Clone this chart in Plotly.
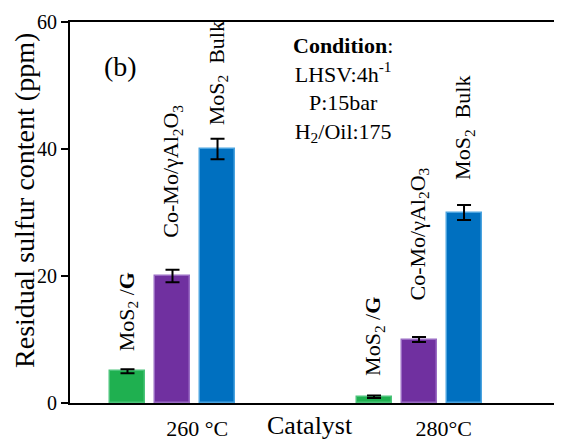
import plotly.graph_objects as go

temps = ["260 °C", "280°C"]
catalysts = ["MoS<sub>2</sub> /<b>G</b>", "Co-Mo/γAl<sub>2</sub>O<sub>3</sub>", "MoS<sub>2</sub>  Bulk"]
values = {
    "MoS2/G": [5, 1],
    "CoMo": [20, 10],
    "Bulk": [40, 30],
}
errors = {
    "MoS2/G": [0.3, 0.2],
    "CoMo": [1.0, 0.4],
    "Bulk": [1.6, 1.2],
}
keys = ["MoS2/G", "CoMo", "Bulk"]
colors = ["#1fb050", "#7030a0", "#0070c0"]
edges = ["#4cc47a", "#9a6cc4", "#4aa3df"]
label_shift = [[16, 17], [30, 34], [11, 23]]

FONT = "Liberation Serif"
d = 0.1826
w = 0.142
# page body has an 8px margin, so the figure is drawn 8px smaller with margins reduced by 8
fig = go.Figure()
anns = []
for i, k in enumerate(keys):
    xs = [g + (i - 1) * d for g in range(len(temps))]
    fig.add_trace(go.Bar(
        x=xs, y=values[k], width=w,
        marker=dict(color=colors[i], line=dict(color=edges[i], width=1.5)),
        error_y=dict(type="data", array=errors[k], color="black", thickness=2, width=7),
        showlegend=False,
    ))
    for g in range(len(temps)):
        anns.append(dict(
            x=xs[g], y=values[k][g] + errors[k][g], xref="x", yref="y",
            text=catalysts[i], textangle=-90, showarrow=False,
            xanchor="center", yanchor="bottom", yshift=label_shift[i][g],
            font=dict(family=FONT, size=22, color="black"),
        ))

anns.append(dict(x=0.102, y=0.882, xref="paper", yref="paper", text="(b)", showarrow=False,
                 xanchor="center", yanchor="middle",
                 font=dict(family=FONT, size=28, color="black")))
anns.append(dict(x=0.555, y=0.976, xref="paper", yref="paper", xanchor="center", yanchor="top",
                 align="center",
                 text="<b>Condition</b>:<br>LHSV:4h<sup>-1</sup><br>P:15bar<br>H<sub>2</sub>/Oil:175",
                 showarrow=False, font=dict(family=FONT, size=22, color="black")))
anns.append(dict(x=-0.0915, y=0.533, xref="paper", yref="paper", text="Residual sulfur content (ppm)",
                 textangle=-90, showarrow=False, xanchor="center", yanchor="middle",
                 font=dict(family=FONT, size=28, color="black")))
anns.append(dict(x=0.488, y=-0.060, xref="paper", yref="paper", xanchor="center", yanchor="middle",
                 text="Catalyst", showarrow=False, font=dict(family=FONT, size=26, color="black")))

fig.update_layout(
    width=554, height=432,
    margin=dict(l=62, r=0, t=14, b=37),
    plot_bgcolor="white", paper_bgcolor="white",
    annotations=anns,
    bargap=0,
    xaxis=dict(range=[-0.4158, 1.580], showgrid=False, zeroline=False, automargin=False,
               showline=True, linecolor="black", linewidth=2, mirror=True,
               tickvals=[g + 0.1 for g in range(len(temps))], ticktext=temps,
               ticks="", ticklabelstandoff=5,
               tickfont=dict(family=FONT, size=22, color="black")),
    yaxis=dict(range=[0, 60], tickvals=[0, 20, 40, 60], showgrid=False, zeroline=False,
               automargin=False,
               showline=True, linecolor="black", linewidth=2,
               ticks="outside", ticklen=7, tickwidth=1.5, tickcolor="black",
               tickfont=dict(family=FONT, size=20, color="black")),
)

fig.write_html("out.html")
